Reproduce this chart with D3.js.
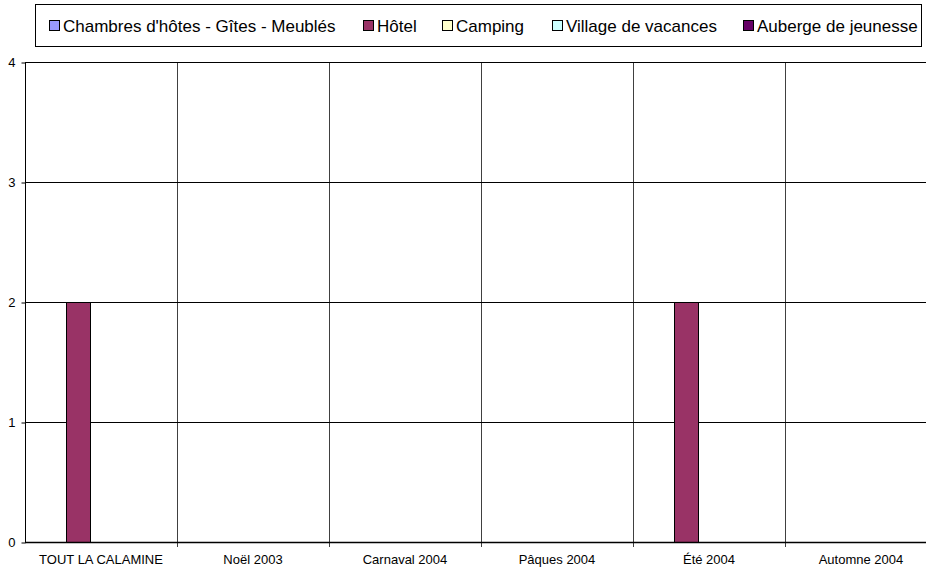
<!DOCTYPE html>
<html>
<head>
<meta charset="utf-8">
<script src="https://cdn.jsdelivr.net/npm/d3@7"></script>
<style>
  body { margin: 0; background: #fff; }
  svg { display: block; font-family: "Liberation Sans", Arial, sans-serif; }
</style>
</head>
<body>
<div id="chart"></div>
<script>
var categories = ["TOUT LA CALAMINE", "Noël 2003", "Carnaval 2004", "Pâques 2004", "Été 2004", "Automne 2004"];
var series = ["Chambres d'hôtes - Gîtes - Meublés", "Hôtel", "Camping", "Village de vacances", "Auberge de jeunesse"];
var colors = ["#9999ff", "#993366", "#ffffcc", "#ccffff", "#660066"];
var values = [
    [0, 0, 0, 0, 0, 0],
    [2, 0, 0, 0, 2, 0],
    [0, 0, 0, 0, 0, 0],
    [0, 0, 0, 0, 0, 0],
    [0, 0, 0, 0, 0, 0]
];
var yTicks = [0, 1, 2, 3, 4];

var width = 926,
    height = 569;

var svg = d3.select("#chart")
    .append("svg")
    .attr("width", width)
    .attr("height", height);

var plotLeft = 25, plotRight = 937, plotTop = 62, plotBottom = 542;

var x0 = d3.scaleBand()
    .domain(categories)
    .range([plotLeft, plotRight]);

var x1 = d3.scaleBand()
    .domain(series)
    .range([16.5, x0.bandwidth() - 15.5]);

var y = d3.scaleLinear()
    .domain([0, 4])
    .range([plotBottom, plotTop]);

// horizontal gridlines
svg.append("g")
    .selectAll("line")
    .data(yTicks.slice(1))
    .enter()
    .append("line")
    .attr("x1", plotLeft)
    .attr("x2", plotRight)
    .attr("y1", d => Math.round(y(d)) + 0.5)
    .attr("y2", d => Math.round(y(d)) + 0.5)
    .attr("stroke", "#000")
    .attr("stroke-width", 1);

// vertical gridlines at category boundaries
svg.append("g")
    .selectAll("line")
    .data(categories.slice(1))
    .enter()
    .append("line")
    .attr("x1", d => Math.round(x0(d)) + 0.5)
    .attr("x2", d => Math.round(x0(d)) + 0.5)
    .attr("y1", plotTop)
    .attr("y2", plotBottom + 5)
    .attr("stroke", "#000")
    .attr("stroke-width", 1)
    .attr("stroke-opacity", 0.75);

// bars
var groups = svg.append("g")
    .selectAll("g")
    .data(series)
    .enter()
    .append("g")
    .attr("fill", (d, i) => colors[i]);

groups.selectAll("rect")
    .data((s, i) => values[i].map((v, j) => ({ s: s, c: categories[j], v: v })))
    .enter()
    .filter(d => d.v > 0)
    .append("rect")
    .attr("x", d => Math.round(x0(d.c) + x1(d.s)) + 0.5)
    .attr("width", Math.round(x1.bandwidth()))
    .attr("y", d => Math.round(y(d.v)) + 0.5)
    .attr("height", d => Math.round(y(0)) - Math.round(y(d.v)))
    .attr("stroke", "#000")
    .attr("stroke-width", 1);

// y axis
var yAxis = svg.append("g")
    .attr("transform", "translate(" + (plotLeft + 0.5) + ",0.5)")
    .call(d3.axisLeft(y).tickValues(yTicks).tickSize(4).tickPadding(6).tickFormat(d3.format("d")));
yAxis.select(".domain").attr("d", "M0," + plotTop + "V" + plotBottom);
yAxis.selectAll("text").style("font-size", "13px").attr("fill", "#000");

// x axis line
svg.append("line")
    .attr("x1", plotLeft)
    .attr("x2", plotRight)
    .attr("y1", plotBottom + 0.5)
    .attr("y2", plotBottom + 0.5)
    .attr("stroke", "#000")
    .attr("stroke-width", 1.5);

svg.append("g")
    .selectAll("text")
    .data(categories)
    .enter()
    .append("text")
    .attr("x", d => x0(d) + x0.bandwidth() / 2)
    .attr("y", 564)
    .attr("text-anchor", "middle")
    .style("font-size", "13px")
    .text(d => d);

// legend
var legend = svg.append("g");
legend.append("rect")
    .attr("x", 35.5)
    .attr("y", 4.5)
    .attr("width", 886)
    .attr("height", 42)
    .attr("fill", "#fff")
    .attr("stroke", "#000");

var legendX = [49, 363, 442, 552, 743];
var item = legend.selectAll("g.item")
    .data(series)
    .enter()
    .append("g")
    .attr("class", "item")
    .attr("transform", (d, i) => "translate(" + legendX[i] + ",0)");
item.append("rect")
    .attr("x", 0.5)
    .attr("y", 20.5)
    .attr("width", 10)
    .attr("height", 10)
    .attr("fill", (d, i) => colors[i])
    .attr("stroke", "#000");
item.append("text")
    .attr("x", 14)
    .attr("y", 32)
    .style("font-size", "17px")
    .text(d => d);
</script>
</body>
</html>
